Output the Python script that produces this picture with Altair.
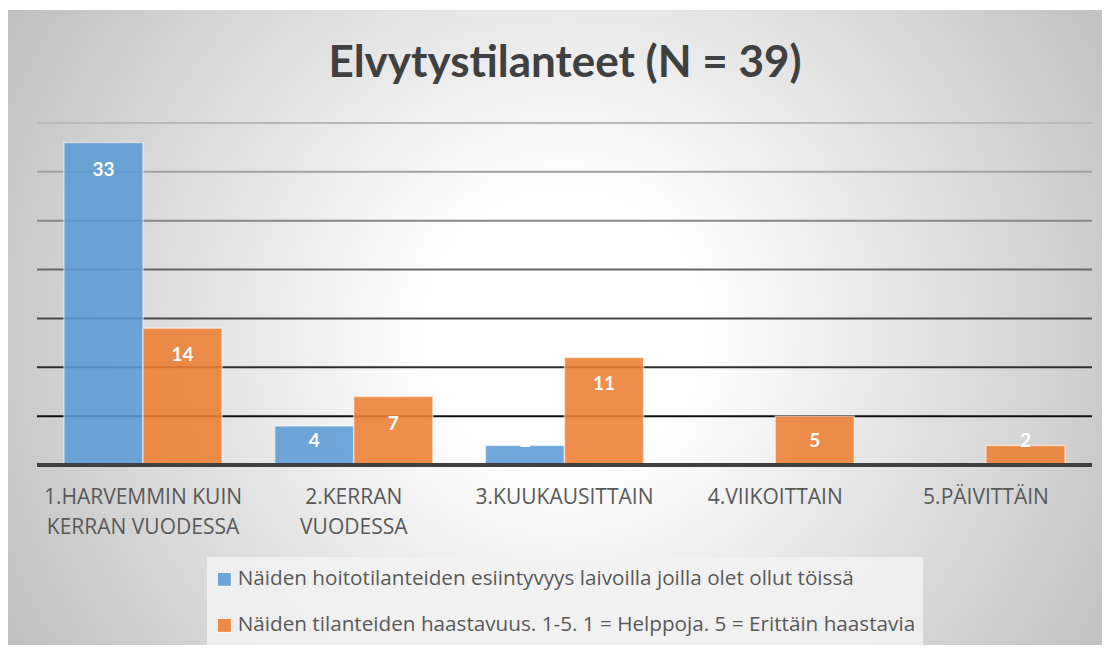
import altair as alt
import pandas as pd

# ---- data -------------------------------------------------------------
categories = [
    "1.HARVEMMIN KUIN\nKERRAN VUODESSA",
    "2.KERRAN\nVUODESSA",
    "3.KUUKAUSITTAIN",
    "4.VIIKOITTAIN",
    "5.PÄIVITTÄIN",
]
series = [
    "Näiden hoitotilanteiden esiintyvyys laivoilla joilla olet ollut töissä",
    "Näiden tilanteiden haastavuus. 1-5. 1 = Helppoja. 5 = Erittäin haastavia",
]
esiintyvyys = [33, 4, 2, None, None]
haastavuus = [14, 7, 11, 5, 2]
grid_values = [5, 10, 15, 20, 25, 30, 35]
title_text = "Elvytystilanteet (N = 39)"

rows = []
for c, a, b in zip(categories, esiintyvyys, haastavuus):
    rows.append({"category": c, "series": series[0], "value": a})
    rows.append({"category": c, "series": series[1], "value": b})
df = pd.DataFrame(rows)

# ---- layout -----------------------------------------------------------
W, H = 1055, 342
FONT = "Lato"
TFONT = "Open Sans"

yscale = alt.Scale(domain=[0, 35], nice=False, zero=True)

x_enc = alt.X(
    "category:N",
    sort=categories,
    scale=alt.Scale(paddingInner=0.25, paddingOuter=0.128),
    axis=alt.Axis(
        title=None,
        labelAngle=0,
        domain=False,
        ticks=False,
        grid=False,
        zindex=2,
        labelFont=TFONT,
        labelFontSize=21,
        labelColor="#595959",
        labelPadding=21,
        labelLineHeight=30,
        labelLimit=400,
        labelExpr="split(datum.label, '\\n')",
    ),
)
xoff_enc = alt.XOffset("series:N", sort=series,
                       scale=alt.Scale(paddingInner=0, paddingOuter=0))

bg = alt.Chart(pd.DataFrame({"k": [0]})).mark_rect(
    fill=alt.RadialGradient(
        gradient="radial",
        stops=[
            alt.GradientStop(offset=0, color="#ffffff"),
            alt.GradientStop(offset=0.2, color="#ffffff"),
            alt.GradientStop(offset=1, color="#bdbdbd"),
        ],
        x1=0.505, y1=0.29, r1=0,
        x2=0.505, y2=0.29, r2=0.6,
    )
).encode(x=alt.value(-29), x2=alt.value(1073), y=alt.value(-113), y2=alt.value(989))

legend_box = alt.Chart(pd.DataFrame({"k": [0]})).mark_rect(
    fill="#f2f2f2", fillOpacity=0.85
).encode(x=alt.value(170), x2=alt.value(886), y=alt.value(434), y2=alt.value(522))

grid = alt.Chart(pd.DataFrame({"g": grid_values})).mark_rule(strokeWidth=2).encode(
    y=alt.Y("g:Q", scale=yscale, axis=None),
    stroke=alt.Stroke(
        "g:O",
        scale=alt.Scale(
            domain=grid_values,
            range=["#111111", "#2e2e2e", "#4a4a4a", "#686868", "#878787", "#a2a2a2", "#b8b8b8"],
        ),
        legend=None,
    ),
)

bars = alt.Chart(df).mark_bar(
    fillOpacity=0.88, stroke="white", strokeWidth=1.5, strokeOpacity=0.5
).encode(
    x=x_enc,
    xOffset=xoff_enc,
    y=alt.Y("value:Q", scale=yscale, axis=None),
    color=alt.Color(
        "series:N",
        sort=series,
        scale=alt.Scale(domain=series, range=["#5b9bd5", "#ed7d31"]),
        legend=alt.Legend(
            title=None,
            orient="none",
            legendX=177,
            legendY=446,
            direction="vertical",
            symbolType="square",
            symbolSize=196,
            symbolOpacity=0.88,
            symbolStrokeColor="#ffffff",
            symbolStrokeWidth=1,
            labelFont=TFONT,
            labelFontSize=20.7,
            labelColor="#595959",
            labelLimit=900,
            labelOffset=3,
            rowPadding=24,
            padding=0,
        ),
    ),
)

baseline = alt.Chart(pd.DataFrame({"z": [0]})).mark_rule(
    strokeWidth=4, color="#404040"
).encode(y=alt.Y("z:Q", scale=yscale, axis=None))

labels = alt.Chart(df).transform_filter(
    "isValid(datum.value)"
).transform_calculate(
    pos="max(datum.value - 2.76, 2.46)"
).mark_text(
    color="white", fontWeight="bold", fontSize=19, font=FONT, baseline="middle"
).encode(
    x=x_enc,
    xOffset=xoff_enc,
    y=alt.Y("pos:Q", scale=yscale, axis=None),
    text=alt.Text("value:Q"),
)

title = alt.Chart(pd.DataFrame({"t": [title_text]})).mark_text(
    font=FONT, fontSize=44, fontWeight="bold", color="#404040",
    baseline="alphabetic", align="center",
).encode(text="t:N", x=alt.value(528), y=alt.value(-46))

chart = alt.layer(bg, legend_box, grid, bars, baseline, labels, title).properties(
    width=W,
    height=H,
    autosize=alt.AutoSizeParams(type="none"),
    padding={"left": 29, "top": 115, "right": 10, "bottom": 180},
).configure_view(stroke=None)

chart.save("out.html", embed_options={"renderer": "svg", "actions": False})
